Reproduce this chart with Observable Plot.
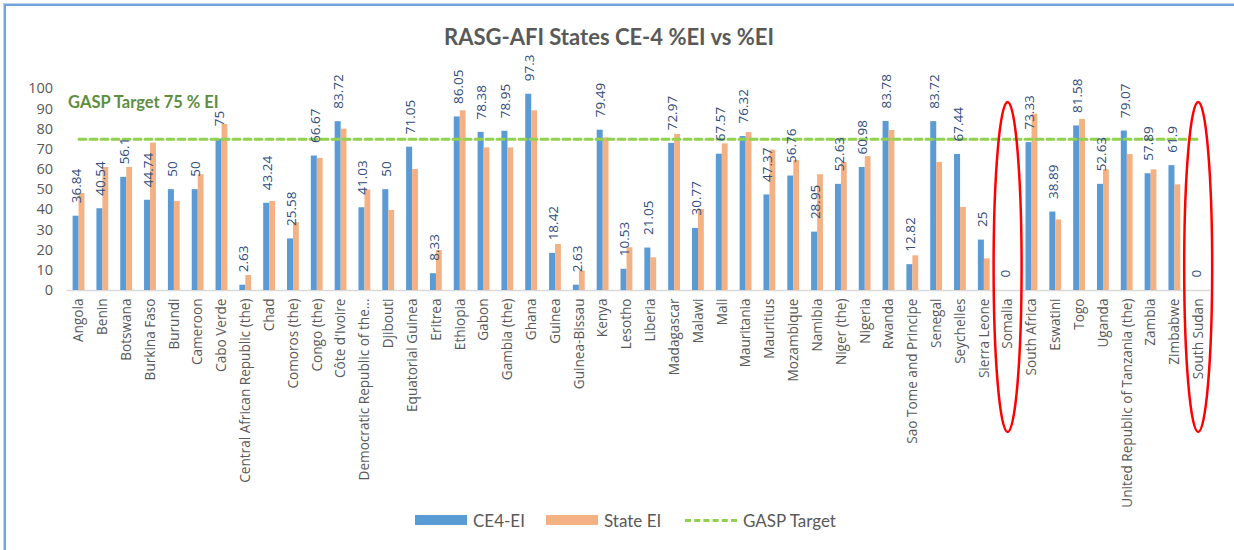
<!DOCTYPE html>
<html>
<head>
<meta charset="utf-8">
<script src="https://cdn.jsdelivr.net/npm/d3@7"></script>
<script src="https://cdn.jsdelivr.net/npm/@observablehq/plot@0.6"></script>
<style>
  html, body { margin: 0; padding: 0; background: #fff; }
  body { width: 1234px; height: 550px; overflow: hidden; position: relative; }
  #frame { position: absolute; left: 4px; top: 4px; width: 1240px; height: 560px;
           border-left: 2px solid #6FA3DA; border-top: 2px solid #6FA3DA;
           box-shadow: -1px -1px 0 #B9D4F0; }
  #title { position: absolute; left: 0; top: 23px; width: 1218px; text-align: center;
           font-family: Lato, "Liberation Sans", sans-serif; font-weight: bold; font-size: 22px; color: #595959; }
  #chart { position: absolute; left: 0; top: 60px; }
  #legend { position: absolute; left: 0; top: 509px; width: 1234px; height: 22px;
            font-family: Lato, "Liberation Sans", sans-serif; font-size: 17px; color: #595959; }
  .lg { position: absolute; top: 0; display: flex; align-items: center; height: 22px; }
  .sw { width: 52px; height: 10px; margin-right: 6px; }
  .dash { width: 52px; height: 0; border-top: 3px dashed #92D050; margin-right: 6px; }
</style>
</head>
<body>
<div id="frame"></div>
<div id="title">RASG-AFI States CE-4 %EI vs %EI</div>
<div id="chart"></div>
<div id="legend">
  <div class="lg" style="left:415px"><div class="sw" style="background:#5B9BD5"></div><span>CE4-EI</span></div>
  <div class="lg" style="left:546px"><div class="sw" style="background:#F4B183"></div><span>State EI</span></div>
  <div class="lg" style="left:685px"><div class="dash"></div><span>GASP Target</span></div>
</div>
<script>
const countries = ["Angola","Benin","Botswana","Burkina Faso","Burundi","Cameroon","Cabo Verde",
  "Central African Republic (the)","Chad","Comoros (the)","Congo (the)","Côte d'Ivoire",
  "Democratic Republic of the...","Djibouti","Equatorial Guinea","Eritrea","Ethiopia","Gabon",
  "Gambia (the)","Ghana","Guinea","Guinea-Bissau","Kenya","Lesotho","Liberia","Madagascar",
  "Malawi","Mali","Mauritania","Mauritius","Mozambique","Namibia","Niger (the)","Nigeria",
  "Rwanda","Sao Tome and Principe","Senegal","Seychelles","Sierra Leone","Somalia",
  "South Africa","Eswatini","Togo","Uganda","United Republic of Tanzania (the)","Zambia",
  "Zimbabwe","South Sudan"];
const ce4EI = [36.84,40.54,56.1,44.74,50,50,75,2.63,43.24,25.58,66.67,83.72,41.03,50,71.05,8.33,
  86.05,78.38,78.95,97.3,18.42,2.63,79.49,10.53,21.05,72.97,30.77,67.57,76.32,47.37,56.76,28.95,
  52.63,60.98,83.78,12.82,83.72,67.44,25,0,73.33,38.89,81.58,52.63,79.07,57.89,61.9,0];
const stateEI = [48.1,61.0,61.0,73.1,44.1,57.4,82.3,7.4,44.1,33.6,65.5,80.0,49.8,39.7,60.0,19.8,
  89.1,70.7,70.7,89.1,22.8,9.6,75.7,21.2,16.2,77.4,40.2,72.7,78.3,69.6,64.5,57.4,63.5,66.4,79.3,
  17.2,63.5,41.2,15.7,0,87.4,35.0,84.8,59.8,67.4,59.8,52.4,0];
const gaspTarget = 75;
const gaspLabel = "GASP Target 75 % EI";
const yTicks = [0,10,20,30,40,50,60,70,80,90,100];
const highlighted = ["Somalia","South Sudan"];

const rows = countries.map((c, i) => ({country: c, ce4: ce4EI[i], state: stateEI[i], target: gaspTarget}));

const chart = Plot.plot({
  width: 1234,
  height: 440,
  marginLeft: 66.6,
  marginRight: 23.9,
  marginTop: 28.3,
  marginBottom: 210,
  style: {fontFamily: "'Open Sans', sans-serif", color: "#595959", background: "transparent"},
  x: {domain: countries, padding: 0, label: null},
  y: {domain: [0, 100], label: null},
  marks: [
    Plot.axisY({ticks: yTicks, tickSize: 0, tickPadding: 14, fontSize: 14.5, label: null, fill: "#595959"}),
    Plot.axisX({tickSize: 0, tickPadding: 8, tickRotate: -90, fontSize: 13.6, label: null, fill: "#595959"}),
    Plot.ruleY([0], {stroke: "#D9D9D9", strokeWidth: 1.5}),
    Plot.barY(rows, {x: "country", y: "ce4", fill: "#5B9BD5", insetLeft: 6, insetRight: 11.8}),
    Plot.barY(rows, {x: "country", y: "state", fill: "#F4B183", insetLeft: 12, insetRight: 6}),
    Plot.lineY(rows, {x: "country", y: "target", stroke: "#92D050", strokeWidth: 3, strokeDasharray: "7,4"}),
    Plot.text(rows, {x: "country", y: "ce4", text: d => String(d.ce4), rotate: -90, textAnchor: "start",
      lineAnchor: "middle", dx: -2, dy: -13, fontSize: 13.5, fill: "#2F4B7C"}),
    Plot.text([gaspLabel], {frameAnchor: "left", y: () => gaspTarget, text: d => d, textAnchor: "start",
      dx: 1, dy: -37, fontSize: 16.5, fontWeight: "bold", fontFamily: "Lato, sans-serif", fill: "#5E8E3E"})
  ]
});

document.getElementById("chart").appendChild(chart);

const xs = chart.scale("x");
const ys = chart.scale("y");
const svg = d3.select(chart).style("overflow", "visible");
svg.append("g").selectAll("ellipse").data(highlighted).join("ellipse")
  .attr("cx", d => xs.apply(d) + xs.bandwidth / 2)
  .attr("cy", ys.apply(0) - 23)
  .attr("rx", 14)
  .attr("ry", 165)
  .attr("fill", "none")
  .attr("stroke", "#FF0000")
  .attr("stroke-width", 2.5);
</script>
</body>
</html>
